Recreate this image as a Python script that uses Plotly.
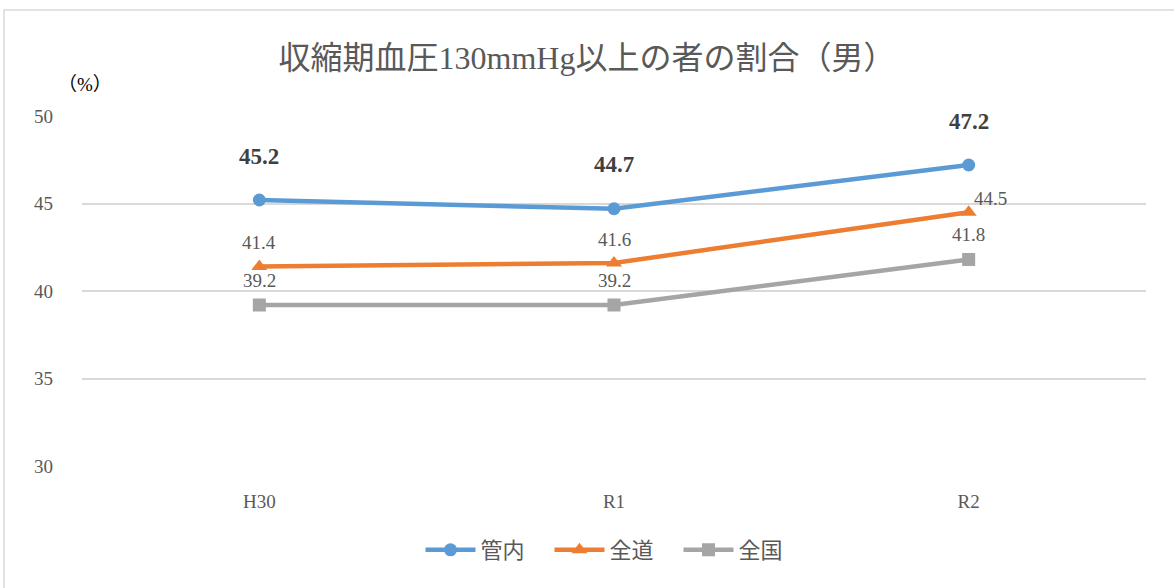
import plotly.graph_objects as go

categories = ["H30", "R1", "R2"]
series_names = ["管内", "全道", "全国"]
kannai = [45.2, 44.7, 47.2]
zendo = [41.4, 41.6, 44.5]
zenkoku = [39.2, 39.2, 41.8]
y_ticks = [30, 35, 40, 45, 50]

colors = ["#5b9bd5", "#ed7d31", "#a5a5a5"]
symbols = ["circle", "triangle-up", "square"]
values = [kannai, zendo, zenkoku]

serif = "Liberation Serif, Times New Roman, Noto Sans CJK JP, serif"

fig = go.Figure()
for name, vals, c, s in zip(series_names, values, colors, symbols):
    fig.add_trace(go.Scatter(
        x=categories, y=vals, name=name, mode="lines+markers",
        line=dict(color=c, width=4.5),
        marker=dict(symbol=s, size=13 if s != "triangle-up" else 14, color=c),
    ))

# data labels
label_cfg = [
    (kannai, [44, 44, 44], [0, 0, 0], dict(size=23, color="#404040"), True),
    (zendo, [24, 24, 14], [0, 0, 22], dict(size=19, color="#595959"), False),
    (zenkoku, [25, 25, 25], [0, 0, 0], dict(size=19, color="#595959"), False),
]
for vals, ys, xs, f, bold in label_cfg:
    for cat, v, ysf, xsf in zip(categories, vals, ys, xs):
        txt = f"<b>{v}</b>" if bold else f"{v}"
        fig.add_annotation(x=cat, y=v, text=txt, showarrow=False,
                           yshift=ysf, xshift=xsf,
                           font=dict(family=serif, **f))

fig.add_annotation(xref="paper", yref="paper", x=0.003, y=1.089,
                   text="（%）", showarrow=False, xanchor="center", yanchor="middle",
                   font=dict(family=serif, size=19, color="#000000"))

fig.add_shape(type="rect", xref="paper", yref="paper",
              x0=-0.0733, x1=1.1, y0=-0.6, y1=1.303,
              line=dict(color="#d9d9d9", width=1.5), fillcolor="rgba(0,0,0,0)")

fig.update_layout(
    width=1174, height=588, autosize=False,
    margin=dict(l=82, r=28, t=116, b=122),
    paper_bgcolor="white", plot_bgcolor="white",
    title=dict(text="収縮期血圧130mmHg以上の者の割合（男）", x=0.5, xanchor="center",
               y=1 - 58 / 588, yanchor="middle",
               font=dict(family=serif, size=32, color="#595959")),
    font=dict(family=serif, color="#595959", size=19),
    xaxis=dict(type="category", range=[-0.5, 2.5], showgrid=False,
               showline=False, ticks="", ticklabelstandoff=22,
               tickfont=dict(size=19, color="#595959")),
    yaxis=dict(range=[30, 50], tickvals=y_ticks, showgrid=True,
               gridcolor="#d9d9d9", gridwidth=1.5, zeroline=False,
               showline=False, ticks="", ticklabelstandoff=28,
               tickfont=dict(size=19, color="#595959")),
    legend=dict(orientation="h", x=0.5, xanchor="center",
                y=-(550 - 466) / 350, yanchor="middle",
                font=dict(family=serif, size=22, color="#595959"),
                itemwidth=50, entrywidth=64, entrywidthmode="pixels"),
    showlegend=True,
)

fig.write_html("out.html", config={"displayModeBar": False},
               post_script="document.body.style.margin='0';")
